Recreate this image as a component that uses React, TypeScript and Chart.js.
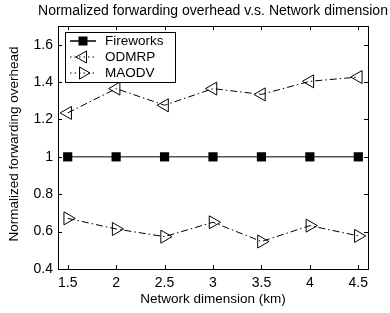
import React, { useEffect, useRef } from 'react';
import Chart from 'chart.js/auto';

const xValues = [1.5, 2, 2.5, 3, 3.5, 4, 4.5];
const fireworks = [1, 1, 1, 1, 1, 1, 1];
const odmrp = [1.235, 1.365, 1.276, 1.365, 1.334, 1.404, 1.427];
const maodv = [0.671, 0.614, 0.573, 0.65, 0.547, 0.632, 0.577];
const xTicks = [1.5, 2, 2.5, 3, 3.5, 4, 4.5];
const yTicks = [0.4, 0.6, 0.8, 1, 1.2, 1.4, 1.6];
const seriesNames = ['Fireworks', 'ODMRP', 'MAODV'];
const titleText = 'Normalized forwarding overhead v.s. Network dimension';
const xTitle = 'Network dimension (km)';
const yTitle = 'Normalized forwarding overhead';

const FONT = '"Liberation Sans", Arial, sans-serif';
const DASHDOT = [7, 3, 1.5, 3];

function drawTri(ctx: CanvasRenderingContext2D, x: number, y: number, r: number, rotDeg: number) {
  let rad = (rotDeg * Math.PI) / 180;
  ctx.beginPath();
  for (let i = 0; i < 3; i++) {
    const px = x + Math.sin(rad) * r;
    const py = y - Math.cos(rad) * r;
    if (i === 0) ctx.moveTo(px, py);
    else ctx.lineTo(px, py);
    rad += (2 * Math.PI) / 3;
  }
  ctx.closePath();
  ctx.stroke();
}

const framePlugin = {
  id: 'frame',
  afterDraw(chart: any) {
    const ctx: CanvasRenderingContext2D = chart.ctx;
    const a = chart.chartArea;
    const xs = chart.scales.x;
    const ys = chart.scales.y;
    ctx.save();
    ctx.strokeStyle = '#000';
    ctx.lineWidth = 1;
    ctx.setLineDash([]);
    ctx.strokeRect(Math.round(a.left) + 0.5, Math.round(a.top) + 0.5, Math.round(a.right - a.left), Math.round(a.bottom - a.top));
    const tl = 4;
    ctx.beginPath();
    xTicks.forEach((v) => {
      const px = Math.round(xs.getPixelForValue(v)) + 0.5;
      ctx.moveTo(px, a.bottom);
      ctx.lineTo(px, a.bottom - tl);
      ctx.moveTo(px, a.top);
      ctx.lineTo(px, a.top + tl);
    });
    yTicks.forEach((v) => {
      const py = Math.round(ys.getPixelForValue(v)) + 0.5;
      ctx.moveTo(a.left, py);
      ctx.lineTo(a.left + tl, py);
      ctx.moveTo(a.right, py);
      ctx.lineTo(a.right - tl, py);
    });
    ctx.stroke();

    ctx.fillStyle = '#000';
    ctx.textAlign = 'center';
    ctx.textBaseline = 'middle';
    ctx.font = `14px ${FONT}`;
    ctx.fillText(titleText, (a.left + a.right) / 2, 11);
    ctx.font = `13.5px ${FONT}`;
    ctx.fillText(xTitle, (a.left + a.right) / 2, 299);
    ctx.save();
    ctx.translate(14, 144);
    ctx.rotate(-Math.PI / 2);
    ctx.fillText(yTitle, 0, 0);
    ctx.restore();

    const lx = 65, ly = 32, lw = 110, lh = 50;
    ctx.fillStyle = '#fff';
    ctx.fillRect(lx, ly, lw, lh);
    ctx.strokeStyle = '#000';
    ctx.strokeRect(lx + 0.5, ly + 0.5, lw, lh);
    const rows = [41, 57, 73];
    const mx = 83;
    rows.forEach((ry, i) => {
      ctx.save();
      if (i === 0) {
        ctx.strokeStyle = '#000';
        ctx.lineWidth = 1.5;
        ctx.beginPath();
        ctx.moveTo(70, ry);
        ctx.lineTo(96, ry);
        ctx.stroke();
        ctx.fillStyle = '#000';
        ctx.fillRect(mx - 4.5, ry - 4.5, 9, 9);
      } else {
        ctx.strokeStyle = '#000';
        ctx.lineWidth = 1;
        ctx.setLineDash([1.5, 3]);
        ctx.beginPath();
        ctx.moveTo(70, ry);
        ctx.lineTo(96, ry);
        ctx.stroke();
        ctx.setLineDash([]);
        drawTri(ctx, mx, ry, 7, i === 1 ? 270 : 90);
      }
      ctx.restore();
      ctx.fillStyle = '#000';
      ctx.font = `13.5px ${FONT}`;
      ctx.textAlign = 'left';
      ctx.textBaseline = 'middle';
      ctx.fillText(seriesNames[i], 105, ry + 0.5);
    });
    ctx.restore();
  },
};

export default function App() {
  const ref = useRef<HTMLCanvasElement | null>(null);
  useEffect(() => {
    document.body.style.margin = '0';
    const canvas = ref.current!;
    const mk = (arr: number[]) => xValues.map((x, i) => ({ x, y: arr[i] }));
    const chart = new Chart(canvas, {
      type: 'line',
      data: {
        datasets: [
          {
            label: seriesNames[0],
            data: mk(fireworks),
            borderColor: '#555',
            borderWidth: 1.5,
            pointStyle: 'rect',
            pointRadius: 6.5,
            pointBackgroundColor: '#000',
            pointBorderColor: '#000',
            pointBorderWidth: 0,
            tension: 0,
          },
          {
            label: seriesNames[1],
            data: mk(odmrp),
            borderColor: '#000',
            borderWidth: 1,
            borderDash: DASHDOT,
            pointStyle: 'triangle',
            pointRotation: 270,
            pointRadius: 7.5,
            pointBackgroundColor: 'rgba(0,0,0,0)',
            pointBorderColor: '#000',
            pointBorderWidth: 1,
            tension: 0,
          },
          {
            label: seriesNames[2],
            data: mk(maodv),
            borderColor: '#000',
            borderWidth: 1,
            borderDash: DASHDOT,
            pointStyle: 'triangle',
            pointRotation: 90,
            pointRadius: 7.5,
            pointBackgroundColor: 'rgba(0,0,0,0)',
            pointBorderColor: '#000',
            pointBorderWidth: 1,
            tension: 0,
          },
        ],
      },
      options: {
        animation: false,
        responsive: false,
        maintainAspectRatio: false,
        layout: { padding: { left: 0, right: 22, top: 26, bottom: 0 } },
        plugins: { legend: { display: false }, tooltip: { enabled: false }, title: { display: false } },
        scales: {
          x: {
            type: 'linear',
            min: 1.4,
            max: 4.6,
            afterFit: (s: any) => { s.height = 44; },
            afterBuildTicks: (s: any) => { s.ticks = xTicks.map((v) => ({ value: v })); },
            grid: { display: false, drawTicks: false },
            border: { display: false },
            ticks: {
              padding: 6,
              color: '#000',
              font: { family: FONT, size: 14 },
              maxRotation: 0,
              callback: (v: any) => String(v),
            },
          },
          y: {
            type: 'linear',
            min: 0.4,
            max: 1.7,
            afterFit: (s: any) => { s.width = 58; },
            afterBuildTicks: (s: any) => { s.ticks = yTicks.map((v) => ({ value: v })); },
            grid: { display: false, drawTicks: false },
            border: { display: false },
            ticks: {
              padding: 5,
              color: '#000',
              font: { family: FONT, size: 14 },
              callback: (v: any) => String(v),
            },
          },
        },
      },
      plugins: [framePlugin],
    });
    return () => chart.destroy();
  }, []);
  return (
    <div style={{ width: 390, height: 313 }}>
      <canvas ref={ref} width={390} height={313} style={{ display: 'block', width: 390, height: 313 }} />
    </div>
  );
}
